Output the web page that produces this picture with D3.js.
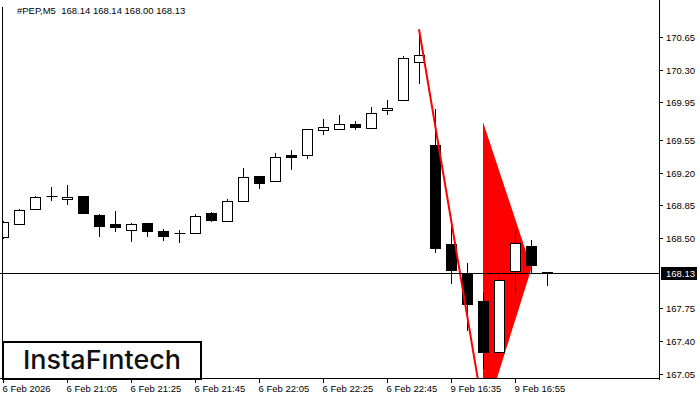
<!DOCTYPE html>
<html><head><meta charset="utf-8">
<script src="https://cdn.jsdelivr.net/npm/d3@7"></script>
<style>body{margin:0;background:#fff}svg{display:block}</style>
</head><body>
<script>
const times = ["6 Feb 20:45","6 Feb 20:50","6 Feb 20:55","6 Feb 21:00","6 Feb 21:05","6 Feb 21:10","6 Feb 21:15","6 Feb 21:20","6 Feb 21:25","6 Feb 21:30","6 Feb 21:35","6 Feb 21:40","6 Feb 21:45","6 Feb 21:50","6 Feb 21:55","6 Feb 22:00","6 Feb 22:05","6 Feb 22:10","6 Feb 22:15","6 Feb 22:20","6 Feb 22:25","6 Feb 22:30","6 Feb 22:35","6 Feb 22:40","6 Feb 22:45","6 Feb 22:50","6 Feb 22:55","9 Feb 16:30","9 Feb 16:35","9 Feb 16:40","9 Feb 16:45","9 Feb 16:50","9 Feb 16:55","9 Feb 17:00","9 Feb 17:05"];
const open  = [168.51,168.65,168.81,168.95,168.92,168.95,168.75,168.65,168.59,168.66,168.58,168.56,168.56,168.77,168.68,168.90,169.16,169.11,169.39,169.39,169.65,169.66,169.72,169.68,169.87,169.97,170.38,169.49,168.44,168.12,167.83,167.28,168.15,168.42,168.14];
const high  = [168.68,168.81,168.95,169.05,169.07,168.95,168.76,168.79,168.66,168.66,168.60,168.59,168.76,168.78,168.92,169.25,169.16,169.41,169.44,169.67,169.77,169.81,169.75,169.90,169.98,170.44,170.68,169.88,168.64,168.24,167.91,168.09,168.60,168.48,168.14];
const low   = [168.50,168.65,168.81,168.91,168.87,168.77,168.52,168.58,168.47,168.52,168.48,168.46,168.55,168.68,168.68,168.90,169.04,169.11,169.24,169.36,169.61,169.66,169.66,169.68,169.82,169.97,170.16,168.35,168.02,167.52,167.11,167.28,167.94,168.13,168.00];
const close = [168.67,168.80,168.94,168.95,168.94,168.77,168.63,168.62,168.65,168.58,168.52,168.55,168.74,168.69,168.90,169.15,169.09,169.37,169.37,169.66,169.69,169.72,169.69,169.84,169.89,170.42,170.45,168.40,168.16,167.80,167.29,168.05,168.45,168.21,168.13];

const yTicks = [170.65,170.30,169.95,169.55,169.20,168.85,168.50,167.75,167.40,167.05];
const xTickIdx = [0,4,8,12,16,20,24,28,32];
const xTickLabels = ["6 Feb 2026","6 Feb 21:05","6 Feb 21:25","6 Feb 21:45","6 Feb 22:05","6 Feb 22:25","6 Feb 22:45","9 Feb 16:35","9 Feb 16:55"];
const currentPrice = 168.13;
const headerText = "#PEP,M5  168.14 168.14 168.00 168.13";
const trendLine = [[26,170.73],[29.9,166.77]];
const flagShape = [[30,169.74],[33.03,168.18],[30,166.53]];
const logoText = "InstaF\u0131ntech";

(function(){
const W = 700, H = 400;
const pL = 3, pR = 659, pT = 0, pB = 379;
const svg = d3.select("body").append("svg").attr("width", W).attr("height", H);

const x = d3.scaleLinear().domain([0, 41]).range([pL, pR]);
const y = d3.scaleLinear().domain([166.997, 171.042]).range([pB, pT]);
const font = "'Liberation Sans', Arial, sans-serif";

svg.append("defs").append("clipPath").attr("id","plot")
  .append("rect").attr("x", pL).attr("y", pT).attr("width", pR-pL).attr("height", pB-pT);

const g = svg.append("g").attr("clip-path","url(#plot)");

// flag triangle
g.append("path")
  .attr("d", d3.line().x(d=>x(d[0])).y(d=>y(d[1]))(flagShape) + "Z")
  .attr("fill", "#ff0000");

// current price line
const cpY = Math.round(y(currentPrice)) + 0.5;
svg.append("line").attr("x1", 0).attr("x2", pR).attr("y1", cpY).attr("y2", cpY)
  .attr("stroke", "#000").attr("stroke-width", 1);

// candles
const data = times.map((t,i)=>({i, o:open[i], h:high[i], l:low[i], c:close[i]}));
const cg = g.append("g");
data.forEach(d=>{
  const cx = Math.round(x(d.i)) + 0.5;
  cg.append("line").attr("x1", cx).attr("x2", cx)
    .attr("y1", Math.round(y(d.h))).attr("y2", Math.round(y(d.l))+1)
    .attr("stroke", "#000").attr("stroke-width", 1);
  const yo = Math.round(y(d.o)), yc = Math.round(y(d.c));
  const t = Math.min(yo, yc), b = Math.max(yo, yc);
  if (b - t < 1) {
    cg.append("line").attr("x1", cx-5).attr("x2", cx+6).attr("y1", t+0.5).attr("y2", t+0.5)
      .attr("stroke", "#000").attr("stroke-width", 1);
  } else {
    cg.append("rect").attr("x", cx-5).attr("y", t+0.5).attr("width", 10).attr("height", b-t)
      .attr("fill", d.c >= d.o ? "#fff" : "#000").attr("stroke", "#000").attr("stroke-width", 1);
  }
});

// trend line
g.append("line")
  .attr("x1", x(trendLine[0][0])).attr("y1", y(trendLine[0][1]))
  .attr("x2", x(trendLine[1][0])).attr("y2", y(trendLine[1][1]))
  .attr("stroke", "#ff0000").attr("stroke-width", 2);

// frame
svg.append("line").attr("x1", 2.5).attr("x2", 2.5).attr("y1", 7).attr("y2", pB).attr("stroke","#000");
svg.append("line").attr("x1", pR+0.5).attr("x2", pR+0.5).attr("y1", 0).attr("y2", pB+1).attr("stroke","#000");
svg.append("line").attr("x1", 0).attr("x2", pR+1).attr("y1", pB-0.5).attr("y2", pB-0.5).attr("stroke","#000");

// y axis
const yAxis = svg.append("g");
yTicks.forEach(v=>{
  const ty = Math.round(y(v)) + 0.5;
  yAxis.append("line").attr("x1", pR+1).attr("x2", pR+4).attr("y1", ty).attr("y2", ty).attr("stroke","#000");
  yAxis.append("text").attr("x", 666).attr("y", ty+3.5).text(v.toFixed(2))
    .attr("font-family", font).attr("font-size", 9.5).attr("fill","#000");
});
// current price label
svg.append("rect").attr("x", 661).attr("y", cpY-6.5).attr("width", 36).attr("height", 13).attr("fill","#000");
svg.append("text").attr("x", 666).attr("y", cpY+3.5).text(currentPrice.toFixed(2))
  .attr("font-family", font).attr("font-size", 9.5).attr("fill","#fff");

// x axis
const xAxis = svg.append("g");
xTickIdx.forEach((idx,k)=>{
  const tx = Math.round(x(idx)) + 0.5;
  xAxis.append("line").attr("x1", tx).attr("x2", tx).attr("y1", pB).attr("y2", pB+4).attr("stroke","#000");
  xAxis.append("text").attr("x", tx-1).attr("y", 392).text(xTickLabels[k])
    .attr("font-family", font).attr("font-size", 9.5).attr("fill","#000");
});

// header
svg.append("text").attr("x", 17).attr("y", 14).text(headerText)
  .style("white-space", "pre")
  .attr("font-family", font).attr("font-size", 9.5).attr("fill","#000");

// logo
svg.append("rect").attr("x", 3).attr("y", 342).attr("width", 198).attr("height", 37)
  .attr("fill","#fff").attr("stroke","#000").attr("stroke-width", 2);
svg.append("text").attr("x", 23).attr("y", 369).text(logoText)
  .attr("font-family", "Inter, 'Noto Sans', sans-serif").attr("font-weight", 500)
  .attr("font-size", 26).attr("textLength", 158).attr("lengthAdjust", "spacingAndGlyphs")
  .attr("fill", "#111");
})();
</script>
</body></html>
